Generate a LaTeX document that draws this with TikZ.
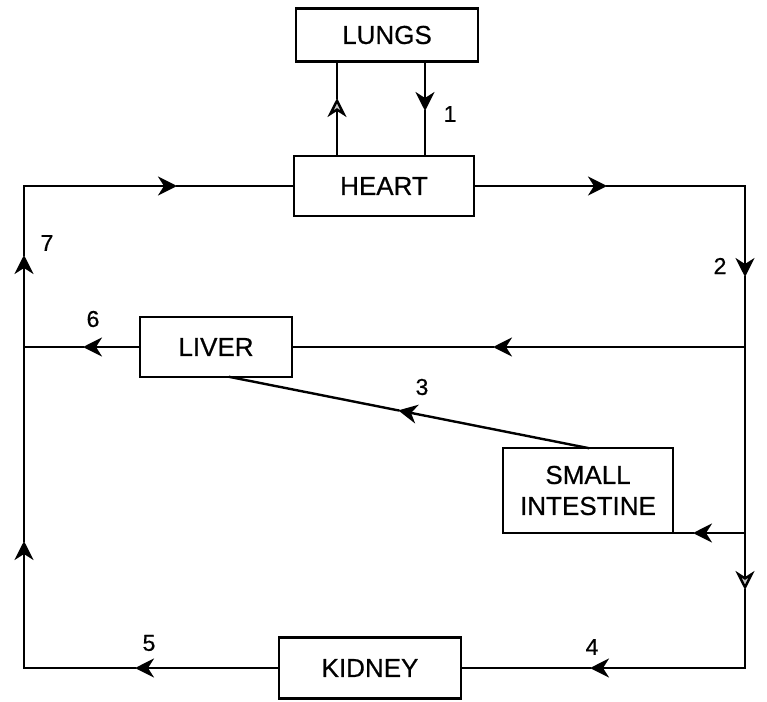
\documentclass[tikz,border=0pt]{standalone}
\usepackage{fontspec}
\setmainfont{Liberation Sans}[FakeBold=0.6]
\usetikzlibrary{arrows.meta,calc}
\begin{document}
\begin{tikzpicture}[x=1pt,y=-1pt,
 box/.style={draw,line width=2.4pt,inner sep=0pt,outer sep=0pt,font=\fontsize{26}{31}\selectfont,align=center},
 ln/.style={line width=2.4pt,line cap=rect},
 tip/.style={line width=2.4pt,line cap=rect,-{Stealth[length=19pt,width=19pt,inset=6pt]}},
 htip/.style={line width=2.4pt,line cap=rect,-{Stealth[length=19pt,width=19pt,inset=6pt,fill=gray!45]}},
 lbl/.style={font=\fontsize{23}{25}\selectfont,inner sep=0pt}]
\useasboundingbox (0,0) rectangle (767,701);
\node[box,minimum width=182pt,minimum height=53pt] (lungs) at (387,35) {LUNGS};
\node[box,minimum width=180pt,minimum height=60pt] (heart) at (384,186) {HEART};
\node[box,minimum width=152pt,minimum height=60pt] (liver) at (216,347) {LIVER};
\node[box,minimum width=170pt,minimum height=85pt] (si) at (588,490.5) {SMALL\\INTESTINE};
\node[box,minimum width=182pt,minimum height=61pt] (kidney) at (370,668) {KIDNEY};
\coordinate (tl) at (24,186);
\coordinate (tr) at (745,186);
\coordinate (br) at (745,668);
\coordinate (bl) at (24,668);
\coordinate (rl) at (745,347);
\coordinate (rs) at (si.south east -| br);
\coordinate (ll) at (24,347);
% heart <-> lungs
\coordinate (a1) at (337,98);
\draw[htip] (heart.north -| a1) -- (a1);
\draw[ln] (a1) -- (lungs.south -| a1);
\coordinate (a2) at (425,111);
\draw[tip] (lungs.south -| a2) -- (a2);
\draw[ln] (a2) -- (heart.north -| a2);
% top
\coordinate (a3) at (177,186);
\draw[tip] (tl) -- (a3);
\draw[ln] (a3) -- (heart.west);
\coordinate (a4) at (607,186);
\draw[tip] (heart.east) -- (a4);
\draw[ln] (a4) -- (tr);
% right
\coordinate (a5) at (745,277);
\coordinate (a6) at (745,590);
\draw[tip] (tr) -- (a5);
\draw[ln] (a5) -- (rs);
\draw[htip] (rs) -- (a6);
\draw[ln] (a6) -- (br);
% liver line
\coordinate (a7) at (493,347);
\draw[tip] (rl) -- (a7);
\draw[ln] (a7) -- (liver.east);
\coordinate (a8) at (83,347);
\draw[tip] (liver.west) -- (a8);
\draw[ln] (a8) -- (ll);
% small intestine to liver
\coordinate (lv) at ([xshift=14pt]liver.south);
\coordinate (a9) at ($(si.north)!0.53!(lv)$);
\draw[tip] (si.north) -- (a9);
\draw[ln] (a9) -- (lv);
\coordinate (a10) at (693,533);
\draw[tip] (rs) -- (a10);
\draw[ln] (a10) -- (si.south east);
% bottom
\coordinate (a11) at (590,668);
\draw[tip] (br) -- (a11);
\draw[ln] (a11) -- (kidney.east);
\coordinate (a12) at (135,668);
\draw[tip] (kidney.west) -- (a12);
\draw[ln] (a12) -- (bl);
% left
\coordinate (a13) at (24,541);
\coordinate (a14) at (24,255);
\draw[tip] (bl) -- (a13);
\draw[tip] (a13) -- (a14);
\draw[ln] (a14) -- (tl);
% labels
\node[lbl] (l1) at (450,114) {1};
\node[lbl] (l2) at (720,266) {2};
\node[lbl] (l3) at (422,387) {3};
\node[lbl] (l4) at (592,647) {4};
\node[lbl] (l5) at (149,643) {5};
\node[lbl] (l6) at (93,319) {6};
\node[lbl] (l7) at (47,243) {7};
\end{tikzpicture}
\end{document}
